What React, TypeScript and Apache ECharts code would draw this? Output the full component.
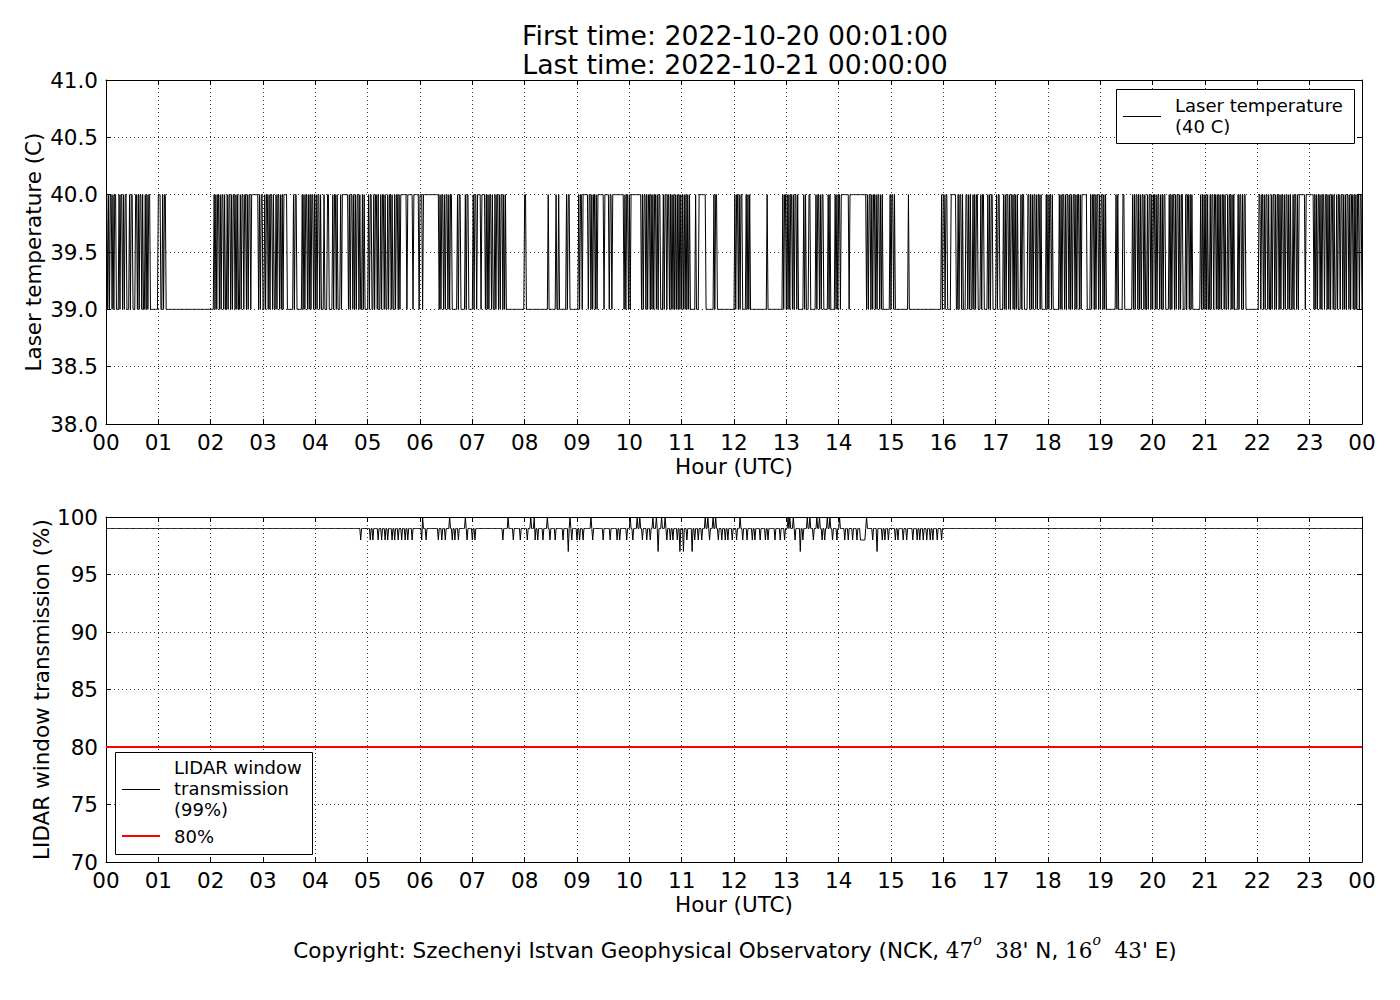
import React, { useEffect, useRef } from "react";
import * as echarts from "echarts";

const TITLE_FIRST = "First time: 2022-10-20 00:01:00";
const TITLE_LAST = "Last time: 2022-10-21 00:00:00";
const COPYRIGHT_PARTS = ["Copyright: Szechenyi Istvan Geophysical Observatory (NCK, ", "47", "o", "  38", "' N, ", "16", "o", "  43", "' E)"];

const HOUR_LABELS = ["00", "01", "02", "03", "04", "05", "06", "07", "08", "09", "10", "11", "12", "13", "14", "15", "16", "17", "18", "19", "20", "21", "22", "23", "00"];

const TEMP_MIN = 38;
const TEMP_MAX = 41;
const TEMP_STEP = 0.5;
const TEMP_LOW = 39;
const TEMP_HIGH = 40;

// one string per hour, one character per minute (00:01 .. 24:00); "1" = 40 C, "0" = 39 C
const TEMP_HOURS: string[] = [
  "101011010110" + "00" + "101101011" + "000" + "1011" + "000" + "110101101" + "00" + "1010110" + "00000000" + "1",
  "110" + "0" + "1011" + "0000000000" + "0000000000" + "0000000000" + "0000000000" + "0000000000" + "00",
  "000" + "10101101011" + "01001011010" + "11010100101" + "10110101101" + "1111111" + "010110",
  "0101101011" + "0100101101" + "01011" + "110" + "000000" + "10110" + "00000" + "1010110101011010",
  "101101" + "000" + "1" + "000" + "11" + "0000" + "1011010" + "00" + "101" + "111111" + "0101101010110100101" + "0000",
  "101100101101001011010" + "010110100101101011" + "11111011111101111110" + "1",
  "110111" + "111111111111111" + "0101101011010110" + "00000" + "1011" + "00000" + "10110" + "0000",
  "10110" + "1111011110" + "10101101001011010110101" + "00000000000000000000" + "01",
  "1" + "0" + "000000000000000000000000" + "1" + "00000000" + "1" + "00" + "1" + "00000000" + "10110" + "00000000",
  "0101101" + "11111" + "0110101101011" + "1111" + "1011111011011" + "11111111111" + "0101101",
  "0" + "111111111111" + "0101101011010101101011" + "000" + "1011011" + "0101010" + "10101010",
  "1010101010" + "00000" + "10" + "00" + "11111111" + "000000000" + "10110" + "0000000000000000000",
  "1011010110" + "000" + "10101" + "0000000000000000000" + "1" + "00000000000000000" + "10110",
  "101" + "01101011010" + "00000" + "101" + "000" + "110" + "00000" + "101101011" + "00000" + "101" + "00000" + "10101",
  "1011" + "1111111" + "0" + "1111111111111111111" + "01011010110101101010" + "0000000" + "10",
  "11010" + "00000000000000" + "10" + "00000000000000000000000000000000000" + "0101",
  "10110" + "000" + "111111" + "00" + "101101" + "000" + "110101" + "00" + "101011" + "000" + "1011" + "0000" + "1010110" + "000",
  "10110" + "000" + "10101101011010101" + "000" + "1011" + "0000" + "1101" + "0101101011010" + "0000" + "101",
  "011010" + "000000" + "101011010110101011010110101" + "11111" + "0000" + "101101011010",
  "110101" + "00000000000" + "101" + "00000" + "110" + "00000000" + "101011010101101001011010",
  "110101101010110" + "000" + "1010110101101011" + "000" + "10110101" + "000000000" + "101" + "010",
  "101" + "00" + "1011" + "0" + "110101" + "0" + "1011010" + "0" + "10110101" + "0000" + "1011010110" + "0000000000000",
  "01" + "1011010110" + "1001011010" + "1101011010" + "1101010010" + "1101011" + "11111011111",
  "11110" + "1010110101" + "1011010101" + "1010010110" + "1101010110" + "1011010101" + "10110",
];

const TRANS_MIN = 70;
const TRANS_MAX = 100;
const TRANS_STEP = 5;
const TRANS_BASE = 99;
const TRANS_LIMIT = 80;
// minute-of-day of the deviations from 99 %
const TRANS_DIP98 = [292, 303, 306, 312, 316, 320, 323, 328, 331, 335, 339, 343, 346, 351, 362, 367, 381, 385, 389, 397, 400, 404, 414, 420, 423, 455, 467, 475, 483, 492, 495, 501, 509, 515, 524, 534, 540, 543, 547, 558, 570, 578, 586, 589, 597, 604, 615, 620, 624, 643, 647, 650, 655, 666, 675, 679, 683, 692, 702, 706, 710, 713, 718, 723, 730, 735, 741, 744, 750, 756, 759, 767, 773, 778, 790, 799, 811, 821, 824, 833, 838, 847, 851, 856, 861, 865, 866, 867, 868, 869, 870, 879, 890, 893, 897, 905, 908, 914, 918, 925, 930, 933, 937, 941, 945, 948, 953, 958];
const TRANS_DIP97 = [530, 633, 658, 662, 672, 796, 884];
const TRANS_UP100 = [363, 394, 412, 461, 487, 491, 506, 532, 556, 601, 609, 612, 627, 631, 637, 641, 687, 690, 696, 699, 727, 782, 784, 788, 804, 807, 815, 818, 827, 830, 841, 872];
const MINUTES_PER_DAY = 1440;

const FONT = "DejaVu Sans";
const SERIF = "DejaVu Serif";

function buildTemp(): [number, number][] {
  const out: [number, number][] = [];
  TEMP_HOURS.forEach((s, h) => {
    for (let m = 0; m < s.length; m++) {
      out.push([h + (m + 1) / 60, s[m] === "1" ? TEMP_HIGH : TEMP_LOW]);
    }
  });
  return out;
}

function buildTrans(): [number, number][] {
  const map = new Map<number, number>();
  TRANS_DIP98.forEach((m) => map.set(m, 98));
  TRANS_DIP97.forEach((m) => map.set(m, 97));
  TRANS_UP100.forEach((m) => map.set(m, 100));
  const out: [number, number][] = [];
  for (let k = 1; k <= MINUTES_PER_DAY; k++) {
    out.push([k / 60, map.has(k) ? (map.get(k) as number) : TRANS_BASE]);
  }
  return out;
}

export default function App() {
  const ref = useRef<HTMLDivElement>(null);
  useEffect(() => {
    if (!ref.current) return;
    const chart = echarts.init(ref.current, undefined, { renderer: "svg" });
    const axisFont = { fontFamily: FONT, fontSize: 21.5, color: "#000" };
    const lineBlack = { show: true, onZero: false, lineStyle: { color: "#000", width: 1 } };
    const tick = { show: true, inside: true, length: 5, lineStyle: { color: "#000", width: 1 } };
    const split = { show: true, lineStyle: { color: "#000", width: 0.8, type: [1, 3] as any } };
    const hourFmt = (v: number) => HOUR_LABELS[Math.round(v)] ?? "";

    const xMain = (g: number) => ({
      gridIndex: g, type: "value", min: 0, max: 24, interval: 1, position: "bottom",
      axisLine: lineBlack, axisTick: tick, splitLine: split,
      axisLabel: { ...axisFont, margin: 7, formatter: hourFmt, showMinLabel: true, showMaxLabel: true },
      name: "Hour (UTC)", nameLocation: "middle", nameGap: 31, nameTextStyle: axisFont,
    });
    const xTop = (g: number) => ({
      gridIndex: g, type: "value", min: 0, max: 24, interval: 1, position: "top",
      axisLine: lineBlack, axisTick: tick, splitLine: { show: false }, axisLabel: { show: false },
    });
    const yRight = (g: number, min: number, max: number, step: number) => ({
      gridIndex: g, type: "value", min, max, interval: step, position: "right",
      axisLine: lineBlack, axisTick: tick, splitLine: { show: false }, axisLabel: { show: false },
    });
    const legendText = (x: number, y: number, text: string) => ({
      type: "text", z: 101, x, y,
      style: { text, fontFamily: FONT, fontSize: 18, fill: "#000", verticalAlign: "middle", textVerticalAlign: "middle" },
    });

    const option: any = {
      animation: false,
      backgroundColor: "#fff",
      grid: [
        { left: 106, top: 80, width: 1256, height: 344 },
        { left: 106, top: 517, width: 1256, height: 345 },
      ],
      xAxis: [xMain(0), xTop(0), xMain(1), xTop(1)],
      yAxis: [
        {
          gridIndex: 0, type: "value", min: TEMP_MIN, max: TEMP_MAX, interval: TEMP_STEP, position: "left",
          axisLine: lineBlack, axisTick: tick, splitLine: split,
          axisLabel: { ...axisFont, margin: 8, formatter: (v: number) => v.toFixed(1) },
          name: "Laser temperature (C)", nameLocation: "middle", nameGap: 62, nameRotate: 90, nameTextStyle: axisFont,
          nameMoveOverlap: false,
        },
        yRight(0, TEMP_MIN, TEMP_MAX, TEMP_STEP),
        {
          gridIndex: 1, type: "value", min: TRANS_MIN, max: TRANS_MAX, interval: TRANS_STEP, position: "left",
          axisLine: lineBlack, axisTick: tick, splitLine: split,
          axisLabel: { ...axisFont, margin: 8 },
          name: "LIDAR window transmission (%)", nameLocation: "middle", nameGap: 54, nameRotate: 90, nameTextStyle: axisFont,
          nameMoveOverlap: false,
        },
        yRight(1, TRANS_MIN, TRANS_MAX, TRANS_STEP),
      ],
      series: [
        {
          type: "line", xAxisIndex: 0, yAxisIndex: 0, data: buildTemp(), showSymbol: false, symbol: "none",
          lineStyle: { color: "#000", width: 1 }, clip: true, silent: true,
        },
        {
          type: "line", xAxisIndex: 2, yAxisIndex: 2, data: [[0, TRANS_LIMIT], [24, TRANS_LIMIT]], showSymbol: false, symbol: "none",
          lineStyle: { color: "#ff0000", width: 2 }, clip: true, silent: true,
        },
        {
          type: "line", xAxisIndex: 2, yAxisIndex: 2, data: buildTrans(), showSymbol: false, symbol: "none",
          lineStyle: { color: "#000", width: 1 }, clip: true, silent: true,
        },
      ],
      graphic: [
        { type: "text", x: 735, y: 35, z: 100, style: { text: TITLE_FIRST, fontFamily: FONT, fontSize: 26.7, fill: "#000", align: "center", verticalAlign: "middle", textAlign: "center", textVerticalAlign: "middle" } },
        { type: "text", x: 735, y: 64, z: 100, style: { text: TITLE_LAST, fontFamily: FONT, fontSize: 26.7, fill: "#000", align: "center", verticalAlign: "middle", textAlign: "center", textVerticalAlign: "middle" } },
        // top legend
        { type: "rect", z: 100, shape: { x: 1116.5, y: 89.5, width: 238, height: 54 }, style: { fill: "#fff", stroke: "#000", lineWidth: 1 } },
        { type: "line", z: 101, shape: { x1: 1123, y1: 116.5, x2: 1161, y2: 116.5 }, style: { stroke: "#000", lineWidth: 1 } },
        legendText(1175, 105, "Laser temperature"),
        legendText(1175, 126, "(40 C)"),
        // bottom legend
        { type: "rect", z: 100, shape: { x: 115.5, y: 752.5, width: 197, height: 102 }, style: { fill: "#fff", stroke: "#000", lineWidth: 1 } },
        { type: "line", z: 101, shape: { x1: 122, y1: 789.5, x2: 160, y2: 789.5 }, style: { stroke: "#000", lineWidth: 1 } },
        legendText(174, 767, "LIDAR window"),
        legendText(174, 788, "transmission"),
        legendText(174, 809, "(99%)"),
        { type: "line", z: 101, shape: { x1: 122, y1: 836, x2: 160, y2: 836 }, style: { stroke: "#ff0000", lineWidth: 2 } },
        legendText(174, 836, "80%"),
        // copyright
        {
          type: "text", z: 100, x: 735, y: 947,
          style: {
            text:
              "{s|" + COPYRIGHT_PARTS[0] + "}{m|" + COPYRIGHT_PARTS[1] + "}{sup|" + COPYRIGHT_PARTS[2] + "}{m|" + COPYRIGHT_PARTS[3] +
              "}{s|" + COPYRIGHT_PARTS[4] + "}{m|" + COPYRIGHT_PARTS[5] + "}{sup|" + COPYRIGHT_PARTS[6] + "}{m|" + COPYRIGHT_PARTS[7] +
              "}{s|" + COPYRIGHT_PARTS[8] + "}",
            align: "center", verticalAlign: "middle", textAlign: "center", textVerticalAlign: "middle",
            rich: {
              s: { fontFamily: FONT, fontSize: 21.5, fill: "#000", color: "#000", lineHeight: 28, verticalAlign: "bottom" },
              m: { fontFamily: SERIF, fontSize: 21.5, fill: "#000", color: "#000", lineHeight: 28, verticalAlign: "bottom" },
              sup: { fontFamily: SERIF, fontSize: 14, fontStyle: "italic", fill: "#000", color: "#000", lineHeight: 28, verticalAlign: "top" },
            },
          },
        },
      ],
    };
    chart.setOption(option);
    return () => chart.dispose();
  }, []);
  return <div ref={ref} style={{ position: "absolute", left: 0, top: 0, width: 1400, height: 1000, background: "#fff" }} />;
}
